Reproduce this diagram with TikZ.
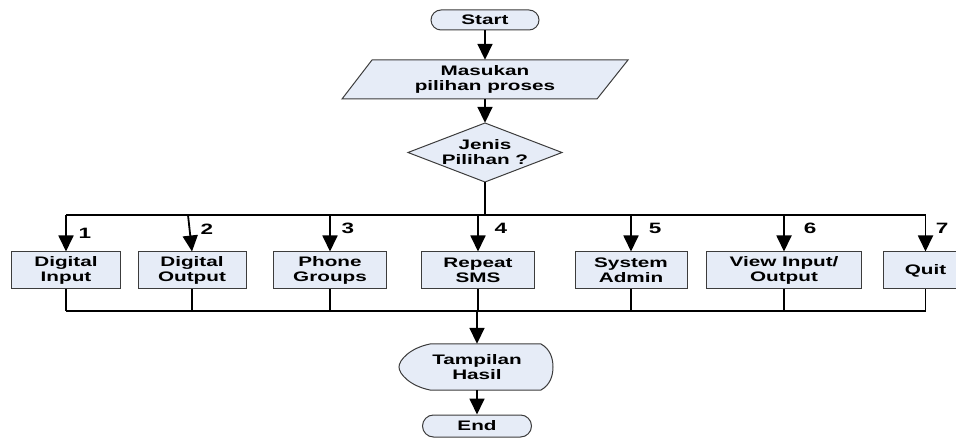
\documentclass[tikz,border=0pt]{standalone}
\usepackage{fontspec}
\setmainfont[FakeStretch=1.5]{Liberation Sans}
\usetikzlibrary{arrows.meta}
\definecolor{boxfill}{RGB}{230,236,247}
\definecolor{boxline}{RGB}{60,60,60}
\begin{document}
\begin{tikzpicture}[x=1pt,y=-1pt,
  every node/.style={font=\fontsize{13.8}{15}\selectfont\bfseries, align=center, inner sep=0pt},
  proc/.style={draw=boxline, line width=1pt, fill=boxfill, minimum height=37pt},
  term/.style={draw=boxline, line width=1pt, fill=boxfill, rounded corners=10pt, minimum height=20pt},
  shapeline/.style={draw=boxline, line width=1pt, fill=boxfill},
  conn/.style={line width=1.8pt},
  arr/.style={conn, -{Triangle[width=15pt,length=16pt]}},
  lbl/.style={font=\fontsize{15}{15}\selectfont\bfseries}
]
\useasboundingbox (0,0) rectangle (956,438);
\clip (0,0) rectangle (956,438);

% Start
\node[term, minimum width=108pt] (start) at (485,20) {Start};

% Input parallelogram
\path[shapeline] (372,60) -- (628,60) -- (597,99) -- (342,99) -- cycle;
\node[minimum width=200pt, minimum height=39pt] (input) at (485,79.5) {Masukan\\pilihan proses};

% Decision diamond
\path[shapeline] (485,123) -- (562,152.5) -- (485,182) -- (408,152.5) -- cycle;
\node[minimum width=154pt, minimum height=59pt] (dec) at (485,152.5) {Jenis\\Pilihan ?};

\draw[arr] (start.south) -- (input.north);
\draw[arr] (input.south) -- (dec.north);

% Process boxes
\node[proc, minimum width=109pt] (b1) at (66,270.5) {Digital\\Input};
\node[proc, minimum width=108pt] (b2) at (192,270.5) {Digital\\Output};
\node[proc, minimum width=113pt] (b3) at (330,270.5) {Phone\\Groups};
\node[proc, minimum width=113pt] (b4) at (478,270.5) {Repeat\\SMS};
\node[proc, minimum width=112pt] (b5) at (631,270.5) {System\\Admin};
\node[proc, minimum width=155pt] (b6) at (784,270.5) {View Input/\\Output};
\node[proc, minimum width=85pt] (b7) at (925.5,270.5) {Quit};

% Top bus
\coordinate (tb) at (485,215);
\coordinate (t1) at (b1.north |- tb);
\coordinate (t2) at (188,215);
\coordinate (t3) at (b3.north |- tb);
\coordinate (t4) at (b4.north |- tb);
\coordinate (t5) at (b5.north |- tb);
\coordinate (t6) at (b6.north |- tb);
\coordinate (t7) at (b7.north |- tb);
\draw[conn] (dec.south) -- (tb);
\draw[conn] (t1) -- (t7);
\draw[arr] (t1) -- (b1.north);
\draw[arr] (t2) -- (b2.north);
\draw[arr] (t3) -- (b3.north);
\draw[arr] (t4) -- (b4.north);
\draw[arr] (t5) -- (b5.north);
\draw[arr] (t6) -- (b6.north);
\draw[arr] (t7) -- (b7.north);

% Labels
\node[lbl] (l1) at (85,233) {1};
\node[lbl] (l2) at (207,229) {2};
\node[lbl] (l3) at (348,228) {3};
\node[lbl] (l4) at (501,228) {4};
\node[lbl] (l5) at (655,228) {5};
\node[lbl] (l6) at (810,228) {6};
\node[lbl] (l7) at (942,228) {7};

% Bottom bus
\coordinate (bb) at (477,311);
\draw[conn] (b1.south) -- (b1.south |- bb);
\draw[conn] (b2.south) -- (b2.south |- bb);
\draw[conn] (b3.south) -- (b3.south |- bb);
\draw[conn] (b4.south) -- (b4.south |- bb);
\draw[conn] (b5.south) -- (b5.south |- bb);
\draw[conn] (b6.south) -- (b6.south |- bb);
\draw[conn] (b7.south) -- (b7.south |- bb);
\draw[conn] (b1.south |- bb) -- (b7.south |- bb);

% Display shape
\path[shapeline] (430,344) -- (541,344) .. controls (550,349) and (553,358) .. (553,367)
  .. controls (553,376) and (550,385) .. (541,390) -- (430,390)
  .. controls (410,386) and (399,374) .. (399,367)
  .. controls (399,360) and (410,348) .. (430,344) -- cycle;
\node[minimum width=154pt, minimum height=46pt] (out) at (477,367) {Tampilan\\Hasil};
\draw[arr] (bb) -- (out.north);

% End
\node[term, minimum width=109pt, minimum height=22pt, rounded corners=11pt] (end) at (477,426) {End};
\draw[arr] (out.south) -- (end.north);
\end{tikzpicture}
\end{document}
